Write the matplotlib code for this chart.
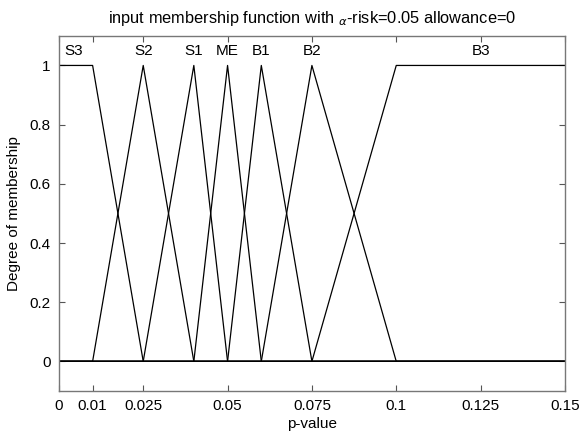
import numpy as np
import matplotlib
matplotlib.use('Agg')
import matplotlib.pyplot as plt

plt.rcParams['font.family'] = ['Liberation Sans', 'DejaVu Sans']
plt.rcParams['mathtext.fontset'] = 'dejavusans'

# membership function names and breakpoints (p-value)
names = ['S3', 'S2', 'S1', 'ME', 'B1', 'B2', 'B3']
mf_x = [
    [0.0, 0.01, 0.025, 0.15],
    [0.0, 0.01, 0.025, 0.04, 0.15],
    [0.0, 0.025, 0.04, 0.05, 0.15],
    [0.0, 0.04, 0.05, 0.06, 0.15],
    [0.0, 0.05, 0.06, 0.075, 0.15],
    [0.0, 0.06, 0.075, 0.1, 0.15],
    [0.0, 0.075, 0.1, 0.15],
]
mf_y = [
    [1, 1, 0, 0],
    [0, 0, 1, 0, 0],
    [0, 0, 1, 0, 0],
    [0, 0, 1, 0, 0],
    [0, 0, 1, 0, 0],
    [0, 0, 1, 0, 0],
    [0, 0, 1, 1],
]
label_x = [0.0044, 0.025, 0.04, 0.05, 0.06, 0.075, 0.125]

xticks = [0, 0.01, 0.025, 0.05, 0.075, 0.1, 0.125, 0.15]
xtick_labels = ['0', '0.01', '0.025', '0.05', '0.075', '0.1', '0.125', '0.15']
yticks = [0, 0.2, 0.4, 0.6, 0.8, 1]
ytick_labels = ['0', '0.2', '0.4', '0.6', '0.8', '1']

fs = 11

fig = plt.figure(figsize=(5.83, 4.32), dpi=100)
ax = fig.add_axes([0.101, 0.095, 0.868, 0.822])

for xs, ys in zip(mf_x, mf_y):
    ax.plot(xs, ys, '-', color='black', lw=0.9)

for name, lx in zip(names, label_x):
    ax.text(lx, 1.048, name, ha='center', va='center', fontsize=fs)

ax.set_xlim(0, 0.15)
ax.set_ylim(-0.1, 1.1)
ax.set_xticks(xticks)
ax.set_xticklabels(xtick_labels)
ax.set_yticks(yticks)
ax.set_yticklabels(ytick_labels)
ax.tick_params(direction='in', top=True, right=True, labelsize=fs,
               length=4, width=0.8, color='#555555', pad=6)
for s in ax.spines.values():
    s.set_color('#777777')
    s.set_linewidth(1.0)

ax.set_xlabel('p-value', fontsize=fs, labelpad=3)
ax.set_ylabel('Degree of membership', fontsize=fs, labelpad=6)
ax.set_title(r'input membership function with $_{\alpha}$-risk=0.05 allowance=0',
             fontsize=11.8, pad=9)

fig.savefig('out.png', dpi=100)
